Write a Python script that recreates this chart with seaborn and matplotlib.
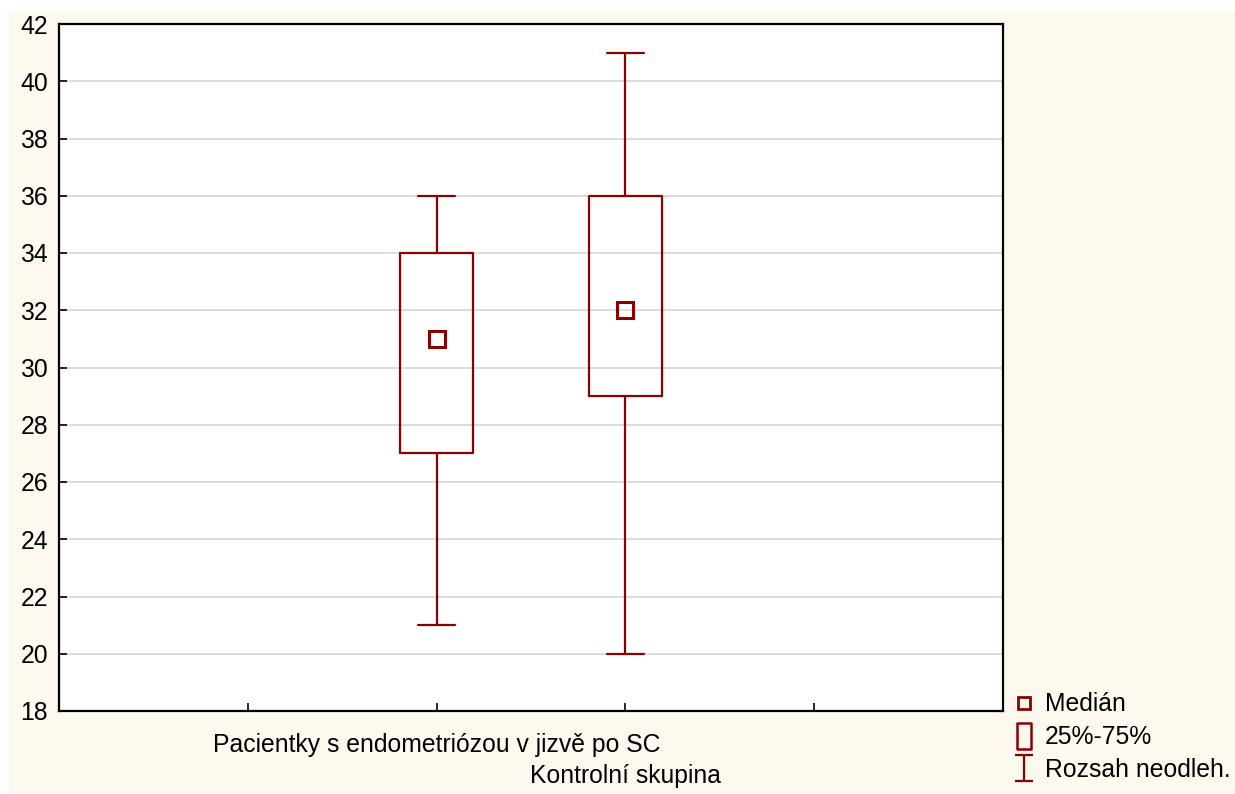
import numpy as np
import pandas as pd
import matplotlib
matplotlib.use("Agg")
import matplotlib.pyplot as plt
from matplotlib.lines import Line2D
from matplotlib.path import Path
from matplotlib.patches import Rectangle
import seaborn as sns

groups = ["Pacientky s endometriózou v jizvě po SC", "Kontrolní skupina"]
minimum = [21, 20]
q25 = [27, 29]
median = [31, 32]
q75 = [34, 36]
maximum = [36, 41]

red = "#8B0000"
cream = "#FEF9EE"

# five-number summaries -> samples whose quartiles are exactly these values
rows = []
for i, g in enumerate(groups):
    for v in (minimum[i], q25[i], median[i], q75[i], maximum[i]):
        rows.append({"skupina": g, "hodnota": v})
df = pd.DataFrame(rows)

sns.set_style("white")
plt.rcParams["font.family"] = ["Liberation Sans", "DejaVu Sans"]
plt.rcParams["text.color"] = "black"
plt.rcParams["xtick.color"] = "black"
plt.rcParams["ytick.color"] = "black"
fs = 17.8

fig = plt.figure(figsize=(12.35, 7.94), dpi=100, facecolor="white")
fig.patches.append(Rectangle((9 / 1235, 0), 1, 1 - 12 / 794, transform=fig.transFigure,
                             facecolor=cream, edgecolor="none", zorder=-10))
ax = fig.add_axes([59 / 1235, 1 - 711 / 794, (1003 - 59) / 1235, (711 - 24) / 794])
ax.set_facecolor("white")

# place the two boxes at x=2 and x=3 of a 0..5 axis
df["pos"] = df["skupina"].map({groups[0]: 2, groups[1]: 3})
sns.boxplot(data=df, x="pos", y="hodnota", native_scale=True, whis=(0, 100), width=0.39,
            fill=False, color=red, linewidth=1.6,
            medianprops={"visible": False},
            capprops={"linewidth": 1.6}, ax=ax)
for line in ax.lines:
    xd = line.get_xdata()
    if len(xd) == 2 and xd[0] != xd[1]:
        c = (xd[0] + xd[1]) / 2
        line.set_xdata([c - 0.1, c + 0.1])

med_df = pd.DataFrame({"pos": [2, 3], "median": median})
ax.plot(med_df["pos"], med_df["median"], linestyle="none", marker="s", markersize=11,
        markerfacecolor="none", markeredgecolor=red, markeredgewidth=2.2)

ax.set_xlim(0, 5)
ax.set_ylim(18, 42)
ax.set_yticks(range(18, 43, 2))
ax.set_xticks([1, 2, 3, 4])
ax.set_xticklabels([""] * 4)
ax.set_xlabel("")
ax.set_ylabel("")
for y in range(20, 42, 2):
    ax.axhline(y, color="#d9d9d9", linewidth=1.3, zorder=0)
for s in ax.spines.values():
    s.set_color("black")
    s.set_linewidth(1.6)
ax.tick_params(axis="both", direction="in", length=6, width=1.2, color="black",
               labelsize=fs, labelcolor="black", bottom=True, left=True)
ax.tick_params(axis="y", pad=8)

ax.text(2, -0.05, groups[0], transform=ax.get_xaxis_transform(), ha="center", va="center",
        fontsize=fs)
ax.text(3, -0.095, groups[1], transform=ax.get_xaxis_transform(), ha="center", va="center",
        fontsize=fs)

tall = Path([(-0.58, -1), (0.58, -1), (0.58, 1), (-0.58, 1), (-0.58, -1)],
            [Path.MOVETO, Path.LINETO, Path.LINETO, Path.LINETO, Path.CLOSEPOLY])
ibeam = Path([(-0.65, 1), (0.65, 1), (0, 1), (0, -1), (-0.65, -1), (0.65, -1)],
             [Path.MOVETO, Path.LINETO, Path.MOVETO, Path.LINETO, Path.MOVETO, Path.LINETO])
handles = [
    Line2D([], [], linestyle="none", marker="s", markersize=9, markerfacecolor="none",
           markeredgecolor=red, markeredgewidth=2),
    Line2D([], [], linestyle="none", marker=tall, markersize=18.5, markerfacecolor="none",
           markeredgecolor=red, markeredgewidth=1.8),
    Line2D([], [], linestyle="none", marker=ibeam, markersize=19, markerfacecolor="none",
           markeredgecolor=red, markeredgewidth=1.6),
]
fig.legend(handles, ["Medián", "25%-75%", "Rozsah neodleh."], loc="lower left",
           bbox_to_anchor=(1003 / 1235, 2 / 794), frameon=False, fontsize=fs,
           handlelength=0.9, handletextpad=0.4, labelspacing=0.36, borderaxespad=0)

fig.savefig("out.png", dpi=100, facecolor="white")
